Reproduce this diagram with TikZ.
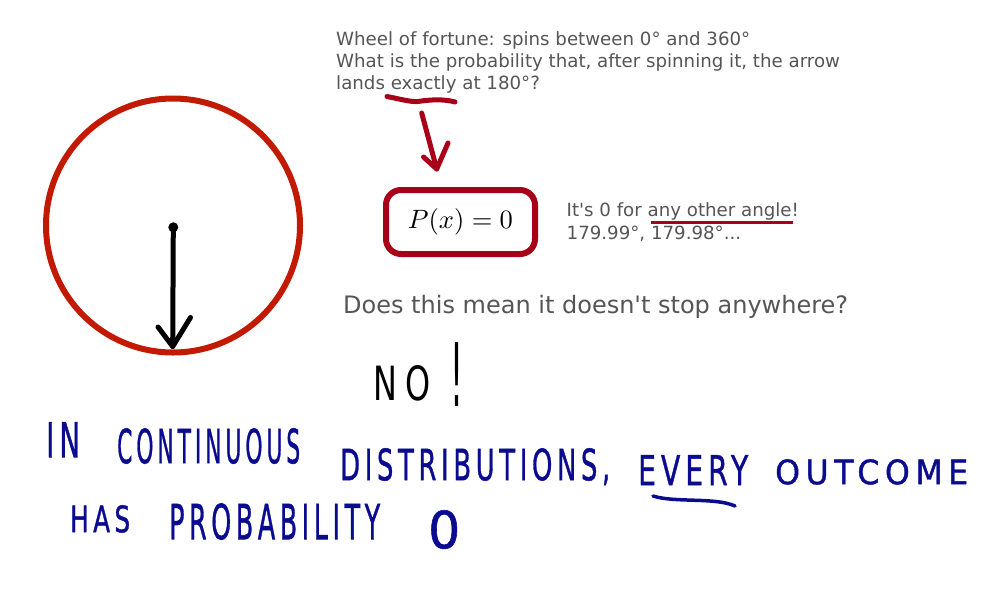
\documentclass[tikz,border=0pt]{standalone}
\usepackage{fontspec}
\setmainfont{DejaVu Sans}
\newfontfamily\hand{DejaVu Sans}[LetterSpace=18,FakeBold=1.2]
\newfontfamily\handno{DejaVu Sans}[LetterSpace=25]
\usepackage{graphicx}
\definecolor{wheelred}{HTML}{C21A00}
\definecolor{boxred}{HTML}{A80018}
\definecolor{txtgrey}{HTML}{555555}
\definecolor{ink}{HTML}{0B0B8F}
\newcommand{\hw}[3]{\resizebox{#1pt}{#2pt}{\hand #3}}
\newcommand{\apos}{\XeTeXglyph\XeTeXcharglyph"27\relax}
\tikzset{
  printed/.style={anchor=base west, inner sep=0, text=txtgrey, font=\fontsize{18.2}{21.8}\selectfont},
  bigq/.style={anchor=base west, inner sep=0, text=txtgrey, font=\fontsize{24}{28}\selectfont},
  handword/.style={anchor=north west, inner sep=0, text=ink},
  redpen/.style={draw=boxred, line width=5, line cap=round, line join=round},
  bluepen/.style={draw=ink, line width=3.5, line cap=round},
  blackpen/.style={draw=black, line width=5, line cap=round, line join=round}
}
\begin{document}
\begin{tikzpicture}[x=1pt,y=-1pt]
\useasboundingbox[fill=white] (0,0) rectangle (1001,611);

% wheel
\node[circle, draw=wheelred, line width=6, minimum size=254, inner sep=0] (wheel) at (173,225.5) {};
\coordinate (hub) at (173.3,227.3);
\coordinate (tip) at (172.7,346.5);
\coordinate (hl) at (158,327);
\coordinate (hr) at (190.5,317.5);
\fill (hub) circle (5);
\draw[blackpen] (hub) -- (tip);
\draw[blackpen] (hl) -- (tip) -- (hr);

% question text
\node[printed] (l1) at (336,45.7) {Wheel of fortune: spins between 0° and 360°};
\node[printed] (l2) at (336,67.6) {What is the probability that, after spinning it, the arrow};
\node[printed] (l3) at (336,89.4) {lands exactly at 180°?};

% underline of "exactly" and arrow to box
\draw[redpen] (387,96.5) .. controls (400,99) and (410,102) .. (418,101.5) .. controls (430,99.5) and (445,99) .. (455,102);
\coordinate (a1) at (421.7,113);
\coordinate (a2) at (436.7,169);
\coordinate (a3) at (448,143);
\coordinate (a4) at (423.5,157);
\draw[redpen] (a1) -- (a2);
\draw[redpen] (a4) -- (a2) -- (a3);

% P(x)=0 box
\node[draw=boxred, line width=6, rounded corners=15, minimum width=149, minimum height=64, inner sep=0] (pbox) at (460.5,222) {\scalebox{2.65}{$P(x) = 0$}};

% other angles
\node[printed] (o1) at (566.5,216) {It\apos s 0 for any other angle!};
\node[printed] (o2) at (566.5,239) {179.99°, 179.98°...};
\coordinate (u1) at (651,222.7);
\coordinate (u2) at (793,222.7);
\draw[draw=boxred, line width=3] (u1) -- (u2);

% big question
\node[bigq] (q) at (343,313.3) {Does this mean it doesn\apos t stop anywhere?};

% NO!
\node[handword, text=black] (no) at (373,365) {\resizebox{57pt}{35pt}{\handno NO}};
\node[handword, text=black] (excl) at (450,342) {\resizebox{13pt}{64pt}{\handno !}};

% handwritten conclusion
\node[handword] (w1) at (46,422) {\hw{34}{35}{IN}};
\node[handword] (w2) at (117,428) {\hw{183}{35}{CONTINUOUS}};
\node[handword] (w3) at (340,448) {\hw{270}{32}{DISTRIBUTIONS,}};
\node[handword] (w4) at (638,455) {\hw{110}{30}{EVERY}};
\node[handword] (w5) at (775,459) {\hw{193}{25}{OUTCOME}};
\node[handword] (w6) at (70,505) {\hw{60}{27}{HAS}};
\node[handword] (w7) at (169,503) {\hw{211}{36}{PROBABILITY}};
\node[handword] (w8) at (428,510) {\hw{32}{38}{0}};
\coordinate (e1) at (653,496);
\coordinate (e2) at (735,506);
\draw[bluepen] (e1) .. controls (675,503) and (715,497) .. (e2);
\end{tikzpicture}
\end{document}
